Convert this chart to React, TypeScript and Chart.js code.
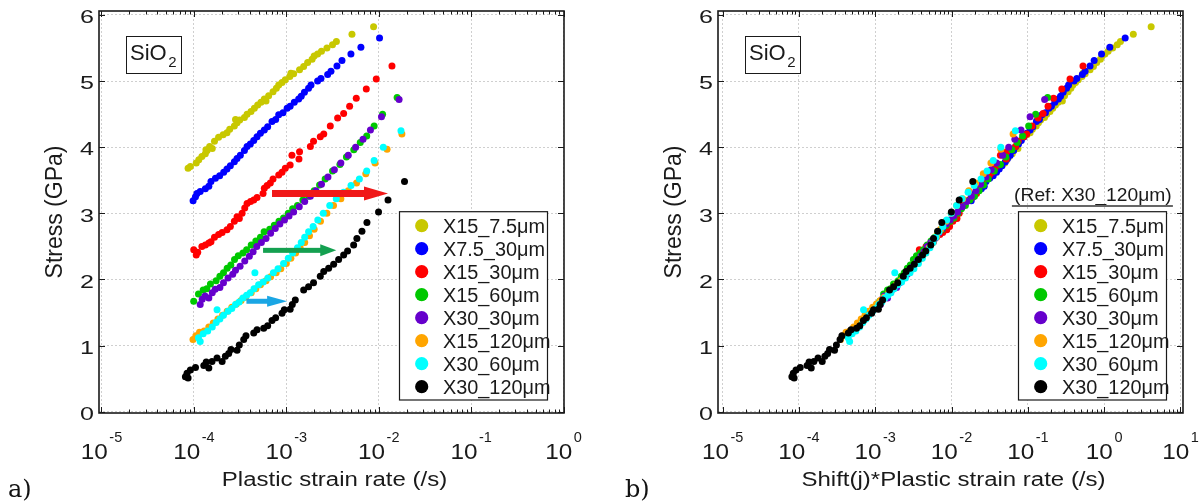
import React, { useEffect, useRef } from 'react';
import { Chart, registerables } from 'chart.js';

Chart.register(...registerables);

// ---------- data ----------
const seriesNames = ['X15_7.5μm', 'X7.5_30μm', 'X15_30μm', 'X15_60μm', 'X30_30μm', 'X15_120μm', 'X30_60μm', 'X30_120μm'];
const seriesColors = ['#c8c800', '#0000ff', '#ff0000', '#00c800', '#6600cc', '#ffa500', '#00ffff', '#000000'];
// shift factors (reference: X30_120μm)
const shiftFactors = [470, 185, 38, 11.5, 10, 3.6, 3.95, 1];

const x15_7p5Rate = [8.65e-5, 9.16e-5, 1.06e-4, 1.13e-4, 1.22e-4, 1.33e-4, 1.35e-4, 1.39e-4, 1.48e-4, 1.58e-4, 1.67e-4, 1.85e-4, 2.07e-4, 2.28e-4, 2.44e-4, 2.74e-4, 2.82e-4, 2.93e-4, 3.13e-4, 3.52e-4, 3.76e-4, 4.15e-4, 4.51e-4, 4.90e-4, 5.32e-4, 5.78e-4, 6.03e-4, 6.44e-4, 7.18e-4, 7.80e-4, 8.27e-4, 8.98e-4, 9.75e-4, 1.09e-3, 1.12e-3, 1.20e-3, 1.39e-3, 1.54e-3, 1.70e-3, 1.90e-3, 2.00e-3, 2.18e-3, 2.40e-3, 2.75e-3, 3.16e-3, 3.48e-3, 5.13e-3, 8.79e-3];
const x15_7p5Stress = [3.68, 3.71, 3.76, 3.81, 3.86, 3.90, 3.96, 3.95, 4.01, 3.98, 4.09, 4.15, 4.19, 4.22, 4.27, 4.32, 4.42, 4.37, 4.41, 4.45, 4.50, 4.54, 4.59, 4.64, 4.68, 4.73, 4.70, 4.78, 4.84, 4.89, 4.94, 4.98, 5.02, 5.07, 5.12, 5.11, 5.17, 5.22, 5.28, 5.33, 5.38, 5.41, 5.45, 5.50, 5.55, 5.60, 5.71, 5.82];

const x7p5_30Rate = [9.8e-5, 1.04e-4, 1.08e-4, 1.17e-4, 1.33e-4, 1.45e-4, 1.53e-4, 1.71e-4, 1.90e-4, 2.10e-4, 2.28e-4, 2.48e-4, 2.74e-4, 2.93e-4, 3.18e-4, 3.52e-4, 3.76e-4, 4.08e-4, 4.44e-4, 4.82e-4, 5.24e-4, 5.78e-4, 6.28e-4, 7.00e-4, 7.67e-4, 8.27e-4, 9.20e-4, 1.02e-3, 1.10e-3, 1.22e-3, 1.36e-3, 1.45e-3, 1.57e-3, 1.74e-3, 1.85e-3, 2.18e-3, 2.37e-3, 2.80e-3, 3.04e-3, 3.53e-3, 4.00e-3, 5.00e-3, 6.41e-3, 1.02e-2];
const x7p5_30Stress = [3.19, 3.25, 3.30, 3.33, 3.37, 3.41, 3.48, 3.53, 3.57, 3.62, 3.67, 3.72, 3.78, 3.83, 3.88, 3.95, 4.01, 4.05, 4.10, 4.16, 4.21, 4.26, 4.31, 4.39, 4.42, 4.49, 4.52, 4.59, 4.62, 4.68, 4.73, 4.77, 4.83, 4.89, 4.94, 5.00, 5.04, 5.10, 5.15, 5.23, 5.31, 5.41, 5.51, 5.65];

const x15_30Rate = [9.96e-5, 1.06e-4, 1.10e-4, 1.22e-4, 1.33e-4, 1.45e-4, 1.53e-4, 1.67e-4, 1.85e-4, 2.02e-4, 2.28e-4, 2.48e-4, 2.74e-4, 2.93e-4, 3.10e-4, 3.32e-4, 3.55e-4, 3.76e-4, 4.10e-4, 4.44e-4, 4.82e-4, 5.60e-4, 5.78e-4, 6.20e-4, 6.71e-4, 7.18e-4, 8.27e-4, 8.98e-4, 9.75e-4, 1.10e-3, 1.15e-3, 1.37e-3, 1.39e-3, 1.82e-3, 1.97e-3, 2.33e-3, 2.54e-3, 2.99e-3, 3.59e-3, 4.17e-3, 4.84e-3, 5.71e-3, 7.33e-3, 9.40e-3, 1.39e-2];
const x15_30Stress = [2.45, 2.37, 2.41, 2.50, 2.52, 2.55, 2.57, 2.64, 2.68, 2.71, 2.75, 2.80, 2.88, 2.95, 2.92, 3.00, 3.08, 3.15, 3.18, 3.20, 3.24, 3.30, 3.38, 3.42, 3.46, 3.52, 3.58, 3.62, 3.68, 3.73, 3.88, 3.82, 3.93, 4.01, 4.09, 4.16, 4.20, 4.32, 4.44, 4.51, 4.62, 4.74, 4.88, 5.03, 5.23];

const x15_60Rate = [9.95e-5, 1.12e-4, 1.26e-4, 1.38e-4, 1.51e-4, 1.74e-4, 1.91e-4, 2.09e-4, 2.29e-4, 2.51e-4, 2.75e-4, 3.02e-4, 3.39e-4, 3.72e-4, 4.17e-4, 4.68e-4, 5.25e-4, 5.75e-4, 6.61e-4, 7.41e-4, 8.32e-4, 9.33e-4, 1.05e-3, 1.17e-3, 1.32e-3, 1.51e-3, 1.74e-3, 2.00e-3, 2.29e-3, 2.63e-3, 3.16e-3, 3.80e-3, 4.47e-3, 5.37e-3, 6.31e-3, 7.41e-3, 8.91e-3, 1.10e-2, 1.58e-2];
const x15_60Stress = [1.67, 1.78, 1.84, 1.86, 1.93, 1.98, 2.05, 2.10, 2.17, 2.22, 2.30, 2.36, 2.40, 2.45, 2.52, 2.58, 2.64, 2.72, 2.76, 2.82, 2.88, 2.93, 3.00, 3.07, 3.12, 3.20, 3.26, 3.34, 3.43, 3.52, 3.64, 3.74, 3.85, 3.96, 4.07, 4.17, 4.32, 4.50, 4.75];

const x30_30Rate = [1.17e-4, 1.23e-4, 1.32e-4, 1.45e-4, 1.58e-4, 1.70e-4, 1.91e-4, 2.09e-4, 2.34e-4, 2.63e-4, 2.82e-4, 3.16e-4, 3.55e-4, 3.98e-4, 4.37e-4, 4.79e-4, 5.37e-4, 6.03e-4, 6.76e-4, 7.59e-4, 8.51e-4, 9.55e-4, 1.07e-3, 1.20e-3, 1.38e-3, 1.58e-3, 1.82e-3, 2.09e-3, 2.40e-3, 2.82e-3, 3.31e-3, 3.89e-3, 4.68e-3, 5.62e-3, 6.76e-3, 8.13e-3, 1.07e-2, 1.66e-2];
const x30_30Stress = [1.62, 1.70, 1.75, 1.72, 1.80, 1.85, 1.88, 1.95, 2.02, 2.08, 2.14, 2.20, 2.28, 2.35, 2.42, 2.50, 2.56, 2.62, 2.70, 2.77, 2.84, 2.90, 2.96, 3.02, 3.10, 3.18, 3.26, 3.34, 3.44, 3.55, 3.66, 3.76, 3.88, 4.00, 4.12, 4.26, 4.46, 4.72];

const x15_120Rate = [9.77e-5, 1.05e-4, 1.15e-4, 1.29e-4, 1.45e-4, 1.62e-4, 1.82e-4, 2.04e-4, 2.29e-4, 2.57e-4, 2.88e-4, 3.24e-4, 3.63e-4, 4.17e-4, 4.68e-4, 5.25e-4, 6.03e-4, 6.76e-4, 7.76e-4, 8.71e-4, 1.00e-3, 1.12e-3, 1.26e-3, 1.41e-3, 1.58e-3, 1.78e-3, 2.00e-3, 2.34e-3, 2.75e-3, 3.24e-3, 3.89e-3, 4.68e-3, 5.75e-3, 7.24e-3, 9.12e-3, 1.23e-2, 1.78e-2];
const x15_120Stress = [1.09, 1.15, 1.20, 1.22, 1.28, 1.34, 1.40, 1.46, 1.52, 1.58, 1.63, 1.68, 1.73, 1.80, 1.86, 1.92, 1.98, 2.04, 2.10, 2.16, 2.24, 2.32, 2.40, 2.48, 2.56, 2.66, 2.76, 2.88, 3.00, 3.12, 3.22, 3.34, 3.46, 3.60, 3.76, 3.97, 4.20];

const x30_60Rate = [1.17e-4, 1.12e-4, 1.26e-4, 1.41e-4, 1.58e-4, 1.74e-4, 1.78e-4, 1.91e-4, 2.09e-4, 2.34e-4, 2.57e-4, 2.82e-4, 3.09e-4, 3.39e-4, 3.72e-4, 4.07e-4, 4.57e-4, 4.47e-4, 5.01e-4, 5.62e-4, 6.31e-4, 7.24e-4, 8.13e-4, 9.33e-4, 1.05e-3, 1.17e-3, 1.32e-3, 1.45e-3, 1.58e-3, 1.74e-3, 1.95e-3, 2.19e-3, 2.51e-3, 2.95e-3, 3.47e-3, 4.17e-3, 5.01e-3, 6.17e-3, 7.41e-3, 8.91e-3, 1.12e-2, 1.74e-2];
const x30_60Stress = [1.06, 1.12, 1.18, 1.22, 1.28, 1.35, 1.54, 1.40, 1.46, 1.52, 1.56, 1.62, 1.66, 1.72, 1.76, 1.80, 2.10, 1.86, 1.92, 1.96, 2.02, 2.10, 2.16, 2.24, 2.32, 2.40, 2.48, 2.56, 2.64, 2.72, 2.80, 2.90, 3.00, 3.12, 3.22, 3.32, 3.42, 3.52, 3.64, 3.80, 4.00, 4.25];

const x30_120Rate = [8.09e-5, 8.43e-5, 8.65e-5, 9.16e-5, 1.04e-4, 1.28e-4, 1.36e-4, 1.45e-4, 1.57e-4, 1.78e-4, 2.02e-4, 2.19e-4, 2.38e-4, 2.52e-4, 2.93e-4, 3.10e-4, 3.46e-4, 3.66e-4, 4.44e-4, 4.82e-4, 5.69e-4, 6.28e-4, 7.00e-4, 7.67e-4, 8.98e-4, 9.51e-4, 1.10e-3, 1.16e-3, 1.25e-3, 1.54e-3, 1.74e-3, 1.97e-3, 2.33e-3, 2.54e-3, 2.87e-3, 3.25e-3, 3.68e-3, 4.17e-3, 4.60e-3, 5.35e-3, 5.80e-3, 6.58e-3, 7.45e-3, 9.95e-3, 1.26e-2, 1.90e-2];
const x30_120Stress = [0.53, 0.58, 0.51, 0.63, 0.67, 0.70, 0.75, 0.66, 0.76, 0.81, 0.76, 0.84, 0.88, 0.94, 0.93, 1.01, 1.09, 1.15, 1.19, 1.24, 1.26, 1.30, 1.38, 1.42, 1.49, 1.54, 1.55, 1.62, 1.69, 1.84, 1.89, 1.95, 2.05, 2.12, 2.17, 2.23, 2.30, 2.37, 2.43, 2.52, 2.62, 2.73, 2.86, 3.02, 3.20, 3.48];

const seriesRates = [x15_7p5Rate, x7p5_30Rate, x15_30Rate, x15_60Rate, x30_30Rate, x15_120Rate, x30_60Rate, x30_120Rate];
const seriesStress = [x15_7p5Stress, x7p5_30Stress, x15_30Stress, x15_60Stress, x30_30Stress, x15_120Stress, x30_60Stress, x30_120Stress];

// arrows on panel a (data coordinates)
const arrowStartRate = [7.0e-4, 5.6e-4, 3.7e-4];
const arrowEndRate = [1.26e-2, 3.47e-3, 1.02e-3];
const arrowStress = [3.30, 2.44, 1.67];
const arrowColors = ['#f01818', '#14a050', '#1aa6e4'];

const yTicks = [0, 1, 2, 3, 4, 5, 6];

const SANS = '"Liberation Sans", Arial, Helvetica, sans-serif';
const INK = '#1a1a1a';

type PanelCfg = {
  id: string;
  letter: string;
  canvasLeft: number;
  width: number;
  padRight: number;
  yWidth: number;
  xMin: number;
  xMax: number;
  decMin: number;
  decMax: number;
  shifted: boolean;
  xTitle: string;
  showArrows: boolean;
  showRef: boolean;
  letterX: number;
};

function makePlugin(cfg: PanelCfg) {
  return {
    id: 'deco_' + cfg.id,
    afterDraw(chart: any) {
      const { ctx, chartArea: a, scales } = chart;
      const xs = scales.x;
      const ys = scales.y;
      const line = (x1: number, y1: number, x2: number, y2: number) => {
        ctx.beginPath();
        ctx.moveTo(x1, y1);
        ctx.lineTo(x2, y2);
        ctx.stroke();
      };
      const text = (s: string, x: number, y: number, font: string, sx: number, align: string) => {
        ctx.save();
        ctx.translate(x, y);
        ctx.scale(sx, 1);
        ctx.font = font;
        ctx.textAlign = align;
        ctx.fillText(s, 0, 0);
        ctx.restore();
      };
      ctx.save();

      // arrows
      if (cfg.showArrows) {
        const shafts = [7, 5, 5];
        const headL = [24, 16, 20];
        const headH = [14, 12, 11];
        for (let i = 0; i < arrowStartRate.length; i++) {
          const x1 = xs.getPixelForValue(arrowStartRate[i]);
          const x2 = xs.getPixelForValue(arrowEndRate[i]);
          const y = ys.getPixelForValue(arrowStress[i]);
          ctx.fillStyle = arrowColors[i];
          ctx.fillRect(x1, y - shafts[i] / 2, x2 - headL[i] - x1 + 1, shafts[i]);
          ctx.beginPath();
          ctx.moveTo(x2 - headL[i], y - headH[i] / 2);
          ctx.lineTo(x2, y);
          ctx.lineTo(x2 - headL[i], y + headH[i] / 2);
          ctx.closePath();
          ctx.fill();
        }
      }

      // box
      ctx.strokeStyle = INK;
      ctx.lineWidth = 1.6;
      ctx.strokeRect(a.left, a.top, a.right - a.left, a.bottom - a.top);

      // inward ticks
      ctx.lineWidth = 1;
      for (let k = cfg.decMin; k <= cfg.decMax; k++) {
        for (let m = 1; m <= 9; m++) {
          const v = m * Math.pow(10, k);
          if (v < xs.min || v > xs.max) continue;
          const px = Math.round(xs.getPixelForValue(v)) + 0.5;
          const len = m === 1 ? 6 : 3.5;
          line(px, a.bottom, px, a.bottom - len);
          line(px, a.top, px, a.top + len);
        }
      }
      for (const v of yTicks) {
        const py = Math.round(ys.getPixelForValue(v)) + 0.5;
        line(a.left, py, a.left + 6, py);
        line(a.right, py, a.right - 6, py);
      }

      ctx.fillStyle = INK;
      ctx.textBaseline = 'alphabetic';

      // y tick labels
      for (const v of yTicks) {
        const py = ys.getPixelForValue(v);
        text(String(v), a.left - 5, py + 8.2, '19px ' + SANS, 1.32, 'right');
      }

      // x tick labels 10^k
      for (let k = cfg.decMin; k <= cfg.decMax; k++) {
        const px = xs.getPixelForValue(Math.pow(10, k));
        const exp = String(k);
        ctx.font = '22.5px ' + SANS;
        const w1 = ctx.measureText('10').width * 1.08;
        ctx.font = '14.5px ' + SANS;
        const w2 = ctx.measureText(exp).width;
        const x0 = px - (w1 + 1.5 + w2) / 2;
        text('10', x0, 459, '22.5px ' + SANS, 1.08, 'left');
        text(exp, x0 + w1 + 1.5, 442, '14.5px ' + SANS, 1, 'left');
      }

      // x title
      text(cfg.xTitle, (a.left + a.right) / 2 + 3, 486, '20px ' + SANS, 1.2, 'center');

      // y title
      ctx.save();
      ctx.translate(a.left - 37, (a.top + a.bottom) / 2);
      ctx.rotate(-Math.PI / 2);
      ctx.font = '23px ' + SANS;
      ctx.textAlign = 'center';
      ctx.fillText('Stress (GPa)', 0, 0);
      ctx.restore();

      // SiO2 box
      const bx = a.left + 27;
      const by = 36;
      ctx.fillStyle = '#ffffff';
      ctx.fillRect(bx, by, 55, 37);
      ctx.strokeStyle = INK;
      ctx.lineWidth = 1;
      ctx.strokeRect(bx + 0.5, by + 0.5, 55, 37);
      ctx.fillStyle = INK;
      ctx.textAlign = 'left';
      ctx.font = '22px ' + SANS;
      ctx.fillText('SiO', bx + 4, 60);
      const wS = ctx.measureText('SiO').width;
      ctx.font = '15px ' + SANS;
      ctx.fillText('2', bx + 4 + wS + 1.5, 66.5);

      // legend
      const lr = a.right - 16.5;
      const ll = lr - 148;
      const lt = 211.7;
      const lb = 400;
      ctx.fillStyle = '#ffffff';
      ctx.fillRect(ll, lt, lr - ll, lb - lt);
      ctx.strokeStyle = INK;
      ctx.lineWidth = 1.2;
      ctx.strokeRect(ll, lt, lr - ll, lb - lt);
      for (let i = 0; i < seriesNames.length; i++) {
        const cy = 225.7 + 23 * i;
        ctx.fillStyle = seriesColors[i];
        ctx.beginPath();
        ctx.arc(ll + 22.2, cy, 6.6, 0, Math.PI * 2);
        ctx.fill();
        ctx.fillStyle = INK;
        text(seriesNames[i], ll + 43.4, cy + 7.2, '19.5px ' + SANS, 1.02, 'left');
      }
      if (cfg.showRef) {
        text('(Ref: X30_120μm)', ll + 74.4, 200.5, '18.5px ' + SANS, 1.04, 'center');
        ctx.strokeStyle = '#666666';
        ctx.lineWidth = 2;
        line(ll - 6.6, 206, ll + 154.4, 206);
      }

      // panel letter
      ctx.textAlign = 'left';
      ctx.fillStyle = '#111111';
      ctx.font = '24px "DejaVu Serif", "Liberation Serif", serif';
      ctx.fillText(cfg.letter, cfg.letterX, 497);

      ctx.restore();
    },
  };
}

function buildConfig(cfg: PanelCfg): any {
  const datasets = seriesNames.map((name, i) => ({
    label: name,
    data: seriesRates[i].map((r, j) => ({
      x: cfg.shifted ? r * shiftFactors[i] : r,
      y: seriesStress[i][j],
    })),
    backgroundColor: seriesColors[i],
    borderColor: seriesColors[i],
    borderWidth: 0,
    pointRadius: 3.5,
    pointHoverRadius: 3.5,
    order: seriesNames.length - 1 - i,
  }));
  return {
    type: 'scatter',
    data: { datasets },
    options: {
      animation: false,
      responsive: false,
      devicePixelRatio: 1,
      layout: { padding: { left: 0, right: cfg.padRight, top: 11, bottom: 0 } },
      plugins: { legend: { display: false }, tooltip: { enabled: false } },
      scales: {
        x: {
          type: 'logarithmic',
          min: cfg.xMin,
          max: cfg.xMax,
          afterBuildTicks: (s: any) => {
            const t = [];
            for (let k = cfg.decMin; k <= cfg.decMax; k++) t.push({ value: Math.pow(10, k) });
            s.ticks = t;
          },
          afterFit: (s: any) => {
            s.height = 91;
          },
          ticks: { display: false },
          grid: { color: '#cfcfcf', lineWidth: 1, drawTicks: false },
          border: { display: false, dash: [2, 2] },
        },
        y: {
          type: 'linear',
          min: -0.02,
          max: 6.06,
          afterBuildTicks: (s: any) => {
            s.ticks = yTicks.map((v) => ({ value: v }));
          },
          afterFit: (s: any) => {
            s.width = cfg.yWidth;
          },
          ticks: { display: false },
          grid: { color: '#cfcfcf', lineWidth: 1, drawTicks: false },
          border: { display: false, dash: [2, 2] },
        },
      },
    },
    plugins: [makePlugin(cfg)],
  };
}

const panelA: PanelCfg = {
  id: 'a',
  letter: 'a)',
  canvasLeft: 0,
  width: 600,
  padRight: 36,
  yWidth: 99,
  xMin: 9.4e-6,
  xMax: 1.01,
  decMin: -5,
  decMax: 0,
  shifted: false,
  xTitle: 'Plastic strain rate (/s)',
  showArrows: true,
  showRef: false,
  letterX: 8,
};

const panelB: PanelCfg = {
  id: 'b',
  letter: 'b)',
  canvasLeft: 600,
  width: 602,
  padRight: 19,
  yWidth: 118,
  xMin: 8.7e-6,
  xMax: 10.8,
  decMin: -5,
  decMax: 1,
  shifted: true,
  xTitle: 'Shift(j)*Plastic strain rate (/s)',
  showArrows: false,
  showRef: true,
  letterX: 25,
};

function Panel({ cfg }: { cfg: PanelCfg }) {
  const ref = useRef<HTMLCanvasElement>(null);
  useEffect(() => {
    if (!ref.current) return;
    const chart = new Chart(ref.current, buildConfig(cfg));
    return () => chart.destroy();
  }, [cfg]);
  return (
    <canvas
      ref={ref}
      width={cfg.width}
      height={504}
      style={{ position: 'absolute', left: cfg.canvasLeft, top: 0, width: cfg.width, height: 504 }}
    />
  );
}

export default function App() {
  return (
    <div
      style={{
        position: 'absolute',
        left: 0,
        top: 0,
        width: 1202,
        height: 504,
        background: '#ffffff',
        overflow: 'hidden',
      }}
    >
      <Panel cfg={panelA} />
      <Panel cfg={panelB} />
    </div>
  );
}
